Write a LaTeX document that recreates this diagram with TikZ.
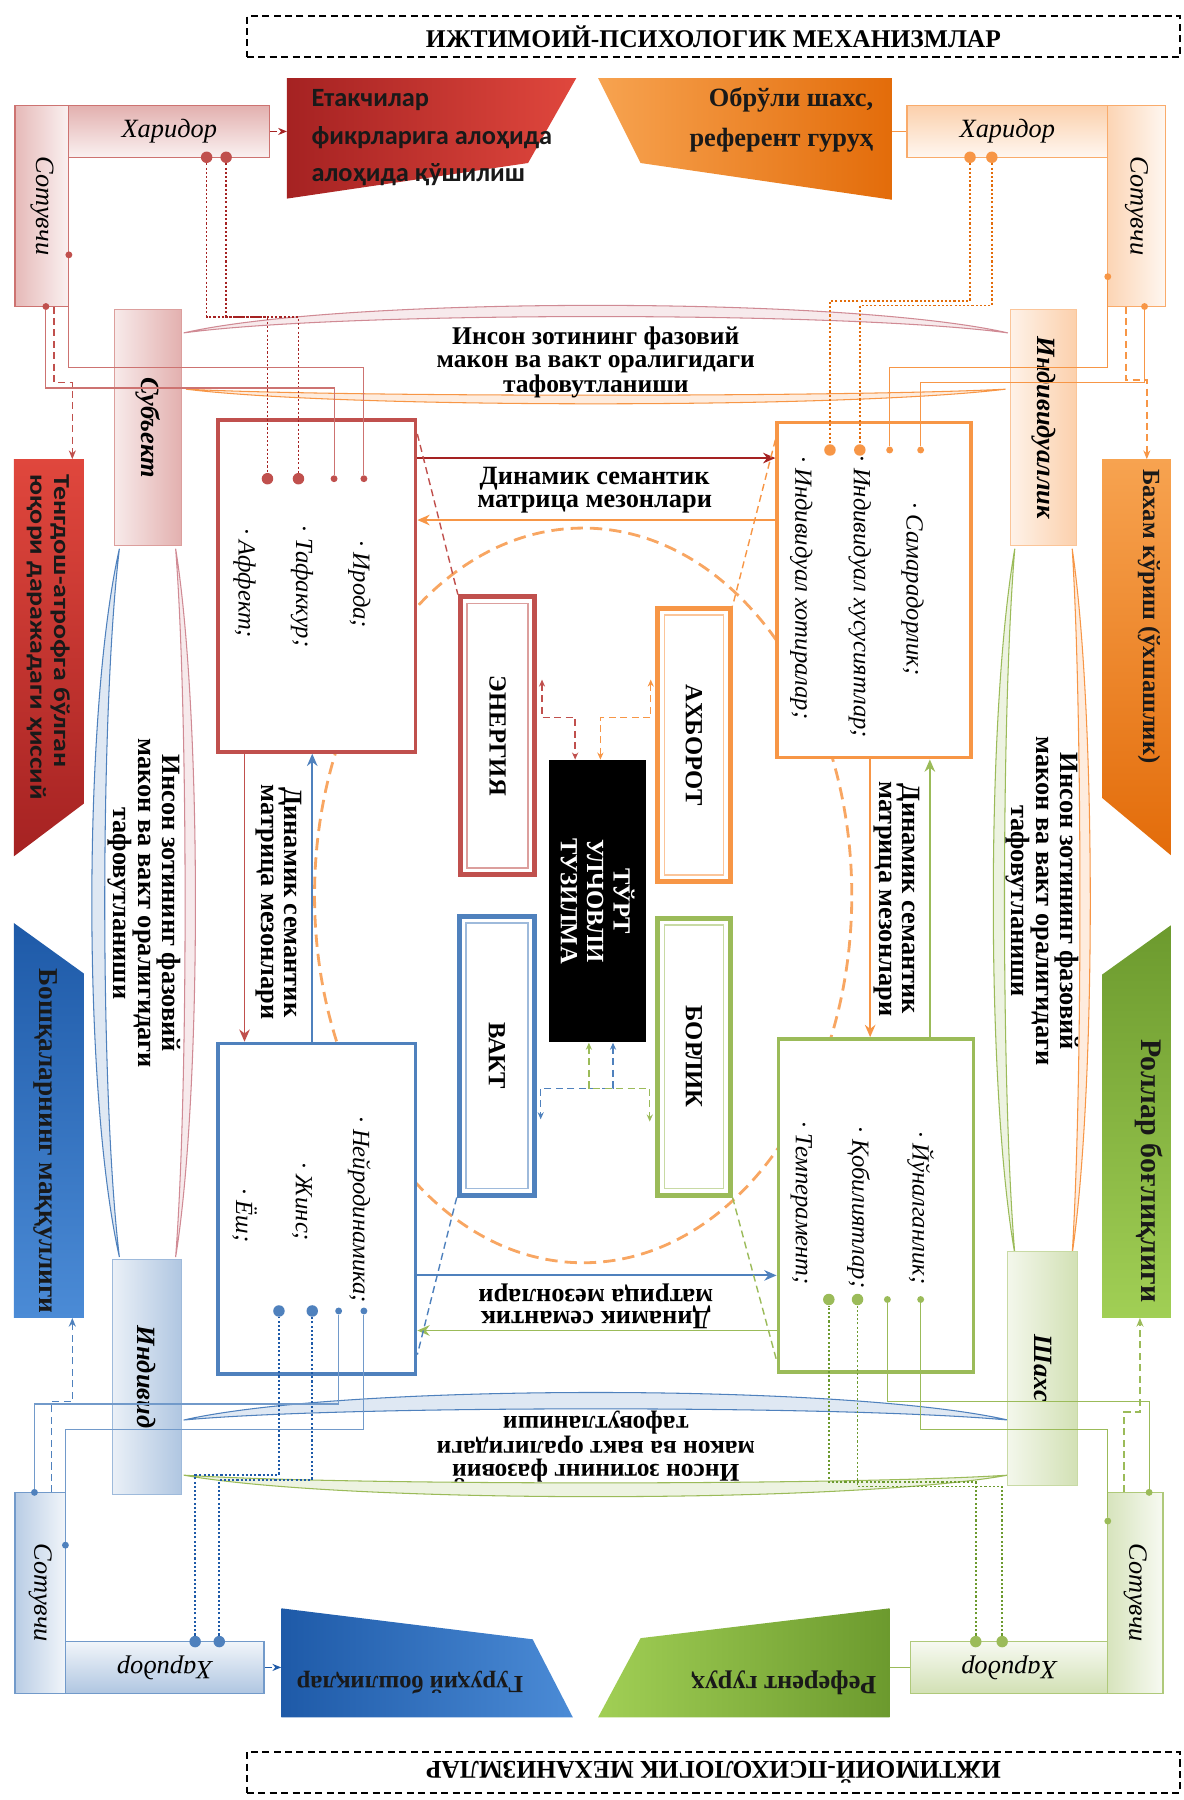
\documentclass[tikz,border=0pt]{standalone}
\usepackage{fontspec}
\setmainfont{Liberation Serif}
\newfontfamily\trsans{Carlito}
\newfontfamily\trsanw{Carlito}[FakeStretch=1.22]
\usetikzlibrary{arrows.meta,calc}

% palette
\definecolor{rd}{HTML}{C0504D}
\definecolor{rdK}{HTML}{A52222}
\definecolor{rdL}{HTML}{E0473D}
\definecolor{pk}{HTML}{D08A94}
\definecolor{og}{HTML}{F79646}
\definecolor{ogK}{HTML}{E36C0A}
\definecolor{ogL}{HTML}{F7A350}
\definecolor{bl}{HTML}{4F81BD}
\definecolor{blK}{HTML}{1E5AA8}
\definecolor{blL}{HTML}{4B8BD6}
\definecolor{gn}{HTML}{9BBB59}
\definecolor{gnK}{HTML}{6C9A2E}
\definecolor{gnL}{HTML}{A1CF55}

\newcommand\pxu{0.022948cm}

\tikzset{
  sz/.style 2 args={minimum width=#1*\pxu, minimum height=#2*\pxu, inner sep=0pt},
  hdr/.style={draw, line width=1.1pt, dash pattern=on 4pt off 2.5pt,
    font=\fontsize{14.5}{17}\selectfont\bfseries},
  hbox/.style={draw=#1!80, line width=0.7pt, top color=#1!45, bottom color=#1!8},
  hboxu/.style={draw=#1!80, line width=0.7pt, top color=#1!8, bottom color=#1!45},
  vbox/.style={draw=#1!80, line width=0.7pt, left color=#1!40, right color=#1!8},
  sbox/.style={draw=#1!55, line width=0.6pt, left color=#1!12, right color=#1!45},
  ibox/.style={draw=#1, line width=2pt, fill=white},
  cbox/.style={draw=#1, line width=2.8pt, fill=white},
  htx/.style={font=\fontsize{15}{17}\selectfont\itshape},
  vtx/.style={rotate=-90, font=\fontsize{15}{17}\selectfont\itshape},
  stx/.style={rotate=-90, font=\fontsize{15}{17}\selectfont\bfseries\itshape},
  itm/.style={rotate=-90, font=\fontsize{14}{16}\selectfont\itshape},
  ctx/.style={rotate=-90, font=\fontsize{14}{15}\selectfont\bfseries, align=center},
  btx/.style={font=\fontsize{14.5}{13}\selectfont\bfseries, align=center},
  btxv/.style={rotate=-90, font=\fontsize{15}{14}\selectfont\bfseries, align=center},
  dtx/.style={font=\fontsize{15}{13}\selectfont\bfseries, align=center},
  tsr/.style={font=\fontsize{15}{22.5}\selectfont\bfseries, text=black!90},
  tsn/.style={font=\trsans\bfseries\fontsize{15}{21.5}\selectfont, text=black!90},
  tsw/.style={font=\trsanw\bfseries\fontsize{13}{13.5}\selectfont, text=black!90},
  bigdot/.style={circle, fill=#1, inner sep=0pt, minimum size=10*\pxu},
  smdot/.style={circle, fill=#1, inner sep=0pt, minimum size=6*\pxu},
  lnk/.style={draw=#1, line width=0.6pt},
  dotl/.style={draw=#1, line width=0.9pt, dash pattern=on 1.2pt off 1.2pt},
  dsh/.style={draw=#1, line width=0.8pt, dash pattern=on 4pt off 2.5pt},
  arr/.style={arrows={-Stealth[length=5pt,width=4pt]}},
  tips2/.style={arrows={Stealth[length=4pt,width=3.5pt]-Stealth[length=4pt,width=3.5pt]}},
  darr/.style={draw=#1, line width=1.1pt, arrows={-Stealth[length=7pt,width=6pt]}},
  cres/.style={draw=#1, fill=#1!18, line width=0.6pt},
}

\begin{document}
\begin{tikzpicture}[x=\pxu, y=-\pxu]
\useasboundingbox (0,0) rectangle (1031,1568);

% levels for the elbow connectors
\foreach \v in {262,266,276,320,331,333,338,378,383,399,453,592,625,948,1111,1159,1180,1185,1221,1223,1230,1245,1285,1289,1291,1295}
  \coordinate (lv\v) at (0,\v);
\foreach \v in {213,272,501,513,523,534,758,810}
  \coordinate (lx\v) at (\v,0);

% headers
\node[hdr, sz={813}{36}] (hdrT) at (621.5,32) {ИЖТИМОИЙ-ПСИХОЛОГИК МЕХАНИЗМЛАР};
\node[hdr, sz={813}{36}, rotate=180] (hdrB) at (621.5,1544) {ИЖТИМОИЙ-ПСИХОЛОГИК МЕХАНИЗМЛАР};

% dashed ring round the centre
\draw[og!85, line width=1.6pt, dash pattern=on 7pt off 4pt]
  (508,780) ellipse [x radius=234*\pxu, y radius=320*\pxu];

% lens bands
\path[cres=pk] (160,290) .. controls (300,258) and (738,258) .. (878,290)
  .. controls (738,271) and (300,271) .. (160,290) -- cycle;
\path[cres=og] (162,339) .. controls (300,346) and (738,346) .. (876,339)
  .. controls (738,356) and (300,356) .. (162,339) -- cycle;
\path[cres=bl] (160,1237) .. controls (300,1205) and (738,1205) .. (878,1237)
  .. controls (738,1224) and (300,1224) .. (160,1237) -- cycle;
\path[cres=gn] (160,1285) .. controls (300,1294) and (738,1294) .. (878,1285)
  .. controls (738,1310) and (300,1310) .. (160,1285) -- cycle;
\path[cres=bl] (104,478) .. controls (72,620) and (72,953) .. (104,1095)
  .. controls (87,953) and (87,620) .. (104,478) -- cycle;
\path[cres=pk] (153,478) .. controls (176,620) and (176,953) .. (153,1095)
  .. controls (164,953) and (164,620) .. (153,478) -- cycle;
\path[cres=gn] (884,478) .. controls (859,620) and (859,950) .. (884,1092)
  .. controls (872,950) and (872,620) .. (884,478) -- cycle;
\path[cres=og] (934,478) .. controls (955,620) and (955,950) .. (934,1092)
  .. controls (943,950) and (943,620) .. (934,478) -- cycle;

% ---- top left (red)
\node[vbox=rd, sz={47}{175}] (sotTL) at (36.5,179.5) {};
\node[vtx] (sotTLt) at (sotTL) {Сотувчи};
\node[hbox=rd, sz={175}{45}] (harTL) at (147.5,114.5) {};
\node[htx] (harTLt) at (harTL) {Харидор};
\shade[left color=rdK, right color=rdL] (250,68) -- (502,68) -- (460,142) -- (250,173) -- cycle;
\node[tsn, anchor=west, align=left] (trTL) at (266,120) {Етакчилар\\фикрларига алоҳида\\алоҳида қўшилиш};
\coordinate (trTLw) at (250,114.5);
\shade[top color=rdL, bottom color=rdK] (12,400) -- (73,400) -- (73,700) -- (12,746) -- cycle;
\node[tsw, rotate=-90, align=left] (trL1) at (42,555) {Тенгдош-атрофга бўлган\\юқори даражадаги ҳиссий};

% ---- top right (orange)
\node[hbox=og, sz={175}{45}] (harTR) at (877.5,114.5) {};
\node[htx] (harTRt) at (harTR) {Харидор};
\node[vbox=og, sz={50}{175}] (sotTR) at (990,179.5) {};
\node[vtx] (sotTRt) at (sotTR) {Сотувчи};
\shade[left color=ogL, right color=ogK] (521,68) -- (777,68) -- (777,174) -- (558,142) -- cycle;
\node[tsr, anchor=east, align=right] (trTR) at (766,104.5) {Обрўли шахс,\\референт гуруҳ};
\coordinate (trTRe) at (777,114.5);
\shade[top color=ogL, bottom color=ogK] (960,400) -- (1020,400) -- (1020,745) -- (960,695) -- cycle;
\node[tsr, rotate=-90, font=\fontsize{14}{16}\selectfont\bfseries] (trR1) at (1001,537) {Бахам кўриш (ўхшашлик)};

% ---- bottom left (blue)
\node[vbox=bl, sz={44}{175}] (sotBL) at (35,1387.5) {};
\node[vtx] (sotBLt) at (sotBL) {Сотувчи};
\node[hboxu=bl, sz={173}{45}] (harBL) at (143.5,1452.5) {};
\node[htx, rotate=180] (harBLt) at (harBL) {Харидор};
\shade[left color=blK, right color=blL] (245,1401) -- (464,1428) -- (499,1496) -- (245,1496) -- cycle;
\node[tsr, rotate=180, font=\fontsize{14}{16}\selectfont\bfseries] (trBL) at (357,1466) {Гуруҳий бошлиқлар};
\coordinate (trBLw) at (245,1452.5);
\shade[top color=blK, bottom color=blL] (12,804) -- (73,848) -- (73,1148) -- (12,1148) -- cycle;
\node[tsr, rotate=-90, font=\fontsize{15.5}{18}\selectfont\bfseries] (trL2) at (40,994) {Бошқаларнинг маққуллиги};

% ---- bottom right (green)
\node[hboxu=gn, sz={172}{45}] (harBR) at (879,1452.5) {};
\node[htx, rotate=180] (harBRt) at (harBR) {Харидор};
\node[vbox=gn, sz={48}{175}] (sotBR) at (989,1387.5) {};
\node[vtx] (sotBRt) at (sotBR) {Сотувчи};
\shade[left color=gnL, right color=gnK] (558,1427) -- (775,1401) -- (775,1496) -- (521,1496) -- cycle;
\node[tsr, rotate=180] (trBR) at (683,1466) {Референт гуруҳ};
\coordinate (trBRe) at (775,1452.5);
\shade[top color=gnK, bottom color=gnL] (960,849) -- (1020,806) -- (1020,1148) -- (960,1148) -- cycle;
\node[tsr, rotate=-90, font=\fontsize{17}{19}\selectfont\bfseries] (trR2) at (1001,1020) {Роллар боғлиқлиги};

% side boxes
\node[sbox=rd, sz={58}{205}] (subj) at (129,372.5) {};
\node[stx] (subjt) at (subj) {Субъект};
\node[sbox=og, sz={58}{205}] (indv) at (909,372.5) {};
\node[stx] (indvt) at (indv) {Индивидуаллик};
\node[sbox=bl, sz={60}{205}] (indd) at (128,1199.5) {};
\node[stx] (inddt) at (indd) {Индивид};
\node[sbox=gn, sz={61}{204}] (shx) at (908.5,1192) {};
\node[stx] (shxt) at (shx) {Шахс};

% item boxes
\node[ibox=rd, sz={172}{289}] (bIrd) at (276,510.5) {};
\node[itm] (iI1) at (313,509) {· Ирода;};
\node[itm] (iI2) at (263,511) {· Тафаккур;};
\node[itm] (iI3) at (213,508) {· Аффект;};
\node[ibox=og, sz={169}{292}] (bSam) at (761.5,514) {};
\node[itm] (iS1) at (795,513) {· Самарадорлик;};
\node[itm] (iS2) at (749,520) {· Индивидуал хусусиятлар;};
\node[itm] (iS3) at (698,512) {· Индивидуал хотиралар;};
\node[ibox=bl, sz={172}{288}] (bNeu) at (276,1053) {};
\node[itm] (iN1) at (313,1054) {· Нейродинамика;};
\node[itm] (iN2) at (263,1047) {· Жинс;};
\node[itm] (iN3) at (213,1059) {· Ёш;};
\node[ibox=gn, sz={170}{290}] (bYun) at (763,1050) {};
\node[itm] (iY1) at (802,1052) {· Йўналганлик;};
\node[itm] (iY2) at (748,1052) {· Қобилиятлар;};
\node[itm] (iY3) at (698,1048) {· Темперамент;};

% centre boxes
\node[cbox=rd, sz={65}{242}] (cEn) at (433.5,641) {};
\node[cbox=og, sz={63}{238}] (cAx) at (604.5,649) {};
\node[cbox=bl, sz={66}{243}] (cVa) at (433,919.5) {};
\node[cbox=gn, sz={63}{241}] (cBo) at (604.5,920.5) {};
\foreach \b/\c in {cEn/rd, cAx/og, cVa/bl, cBo/gn}
  \draw[\c!55, line width=0.9pt] ($(\b.north west)+(8,8)$) rectangle ($(\b.south east)+(-8,-8)$);
\node[ctx] (cEnt) at (cEn) {ЭНЕРГИЯ};
\node[ctx] (cAxt) at (cAx) {АХБОРОТ};
\node[ctx] (cVat) at (cVa) {ВАКТ};
\node[ctx] (cBot) at (cBo) {БОРЛИК};
\node[fill=black, sz={85}{246}] (cT) at (520.5,785) {};
\node[ctx, text=white] (cTt) at (cT) {ТЎРТ\\УЛЧОВЛИ\\ТУЗИЛМА};

% band and matrix labels
\node[btx] (bandT) at (519,316) {Инсон зотининг фазовий\\макон ва вакт оралигидаги\\тафовутланиши};
\node[btx, rotate=180] (bandB) at (519,1260) {Инсон зотининг фазовий\\макон ва вакт оралигидаги\\тафовутланиши};
\node[btxv] (bandL) at (126,787) {Инсон зотининг фазовий\\макон ва вакт оралигидаги\\тафовутланиши};
\node[btxv] (bandR) at (908,785) {Инсон зотининг фазовий\\макон ва вакт оралигидаги\\тафовутланиши};
\node[dtx] (dynT) at (518,427) {Динамик семантик\\матрица мезонлари};
\node[dtx, rotate=180] (dynB) at (519,1138) {Динамик семантик\\матрица мезонлари};
\node[dtx, rotate=-90] (dynL) at (243,786) {Динамик семантик\\матрица мезонлари};
\node[dtx, rotate=-90] (dynR) at (781,783) {Динамик семантик\\матрица мезонлари};

% dots
\foreach \n/\x in {rdA/233, rdB/260} \node[bigdot=rd] (\n) at (\x,417) {};
\foreach \n/\x in {rdC/291, rdD/317} \node[smdot=rd] (\n) at (\x,417) {};
\foreach \n/\x in {roA/723, roB/749} \node[bigdot=og] (\n) at (\x,392) {};
\foreach \n/\x in {roC/775, roD/802} \node[smdot=og] (\n) at (\x,392) {};
\foreach \n/\x in {blA/243, blB/272} \node[bigdot=bl] (\n) at (\x,1142) {};
\foreach \n/\x in {blC/295, blD/317} \node[smdot=bl] (\n) at (\x,1142) {};
\foreach \n/\x in {gnA/722, gnB/747} \node[bigdot=gn] (\n) at (\x,1132) {};
\foreach \n/\x in {gnC/773, gnD/802} \node[smdot=gn] (\n) at (\x,1132) {};
\foreach \n/\x in {hdTL1/180, hdTL2/197} \node[bigdot=rd] (\n) at (\x,137) {};
\foreach \n/\x in {hdTR1/845, hdTR2/864} \node[bigdot=og] (\n) at (\x,137) {};
\foreach \n/\x in {hdBL1/170, hdBL2/191} \node[bigdot=bl] (\n) at (\x,1430) {};
\foreach \n/\x in {hdBR1/850, hdBR2/873} \node[bigdot=gn] (\n) at (\x,1430) {};
\node[smdot=rd] (sdTL1) at (60,222) {};
\node[smdot=rd] (sdTL2) at (40,267) {};
\node[smdot=og] (sdTR1) at (965,241) {};
\node[smdot=og] (sdTR2) at (997,267) {};
\node[smdot=bl] (sdBL1) at (30,1300) {};
\node[smdot=bl] (sdBL2) at (57,1346) {};
\node[smdot=gn] (sdBR1) at (1001,1300) {};
\node[smdot=gn] (sdBR2) at (965,1325) {};
\coordinate (dsTL) at (47,267);
\coordinate (tpTL) at (63,400);
\coordinate (dsTR) at (981,267);
\coordinate (tpTR) at (999,400);
\coordinate (dsBL) at (45,1300);
\coordinate (tpBL) at (63,1148);
\coordinate (dsBR) at (979,1300);
\coordinate (tpBR) at (993,1148);

% corner links
\draw[dotl=rdK] (hdTL1) |- (rdA |- lv276) -- (rdA);
\draw[dotl=rdK] (hdTL2) |- (rdB |- lv276) -- (rdB);
\draw[lnk=rd!80] (sdTL1) |- (rdD |- lv320) -- (rdD);
\draw[lnk=rd!80] (sdTL2) |- (rdC |- lv338) -- (rdC);
\draw[dsh=rd, arr] (dsTL) |- (tpTL |- lv333) -- (tpTL);
\draw[dsh=rdK, arr] (harTL) -- (trTLw);

\draw[dotl=ogK] (hdTR1) |- (roA |- lv262) -- (roA);
\draw[dotl=ogK] (hdTR2) |- (roB |- lv266) -- (roB);
\draw[lnk=og] (sdTR1) |- (roC |- lv320) -- (roC);
\draw[lnk=og] (sdTR2) |- (roD |- lv333) -- (roD);
\draw[dsh=og, arr] (dsTR) |- (tpTR |- lv331) -- (tpTR);
\draw[lnk=og] (trTRe) -- (harTR);

\draw[dotl=blK] (hdBL1) |- (blA |- lv1285) -- (blA);
\draw[dotl=blK] (hdBL2) |- (blB |- lv1289) -- (blB);
\draw[lnk=bl!80] (blC) |- (sdBL1 |- lv1223) -- (sdBL1);
\draw[lnk=bl!80] (blD) |- (sdBL2 |- lv1245) -- (sdBL2);
\draw[dsh=bl, arr] (dsBL) |- (tpBL |- lv1221) -- (tpBL);
\draw[dsh=blK, arr] (harBL) -- (trBLw);

\draw[dotl=gnK] (hdBR1) |- (gnA |- lv1291) -- (gnA);
\draw[dotl=gnK] (hdBR2) |- (gnB |- lv1295) -- (gnB);
\draw[lnk=gn] (gnC) |- (sdBR1 |- lv1221) -- (sdBR1);
\draw[lnk=gn] (gnD) |- (sdBR2 |- lv1245) -- (sdBR2);
\draw[dsh=gn, arr] (dsBR) |- (tpBR |- lv1230) -- (tpBR);
\draw[lnk=gn] (trBRe) -- (harBR);

% matrix arrows between item boxes
\draw[darr=rdK] (bIrd.east |- lv399) -- (bSam.west |- lv399);
\draw[darr=og] (bSam.west |- lv453) -- (bIrd.east |- lv453);
\draw[darr=rd] (bIrd.south -| lx213) -- (bNeu.north -| lx213);
\draw[darr=bl] (bNeu.north -| lx272) -- (bIrd.south -| lx272);
\draw[darr=og] (bSam.south -| lx758) -- (bYun.north -| lx758);
\draw[darr=gn] (bYun.north -| lx810) -- (bSam.south -| lx810);
\draw[darr=bl] (bNeu.east |- lv1111) -- (bYun.west |- lv1111);
\draw[darr=gn] (bYun.west |- lv1159) -- (bNeu.east |- lv1159);

% dashed links round the centre
\draw[dsh=rd] (bIrd.east |- lv378) -- (cEn.north west);
\draw[dsh=og] (bSam.west |- lv383) -- (cAx.north east);
\draw[dsh=bl] (cVa.south west) -- (bNeu.east |- lv1180);
\draw[dsh=gn] (cBo.south east) -- (bYun.west |- lv1185);
\coordinate (cEnR) at ($(cEn.east |- lv592)+(4,0)$);
\coordinate (cAxL) at ($(cAx.west |- lv592)+(-4,0)$);
\coordinate (cVaR) at (471,975);
\coordinate (cBoL) at (566,977);
\draw[dsh=rd, tips2] (cEnR) |- (lx501 |- lv625) -- (cT.north -| lx501);
\draw[dsh=og, tips2] (cAxL) |- (lx523 |- lv625) -- (cT.north -| lx523);
\draw[dsh=bl, tips2] (cT.south -| lx534) -- (lx534 |- lv948) -| (cVaR);
\draw[dsh=gn, tips2] (cT.south -| lx513) -- (lx513 |- lv948) -| (cBoL);
\end{tikzpicture}
\end{document}
